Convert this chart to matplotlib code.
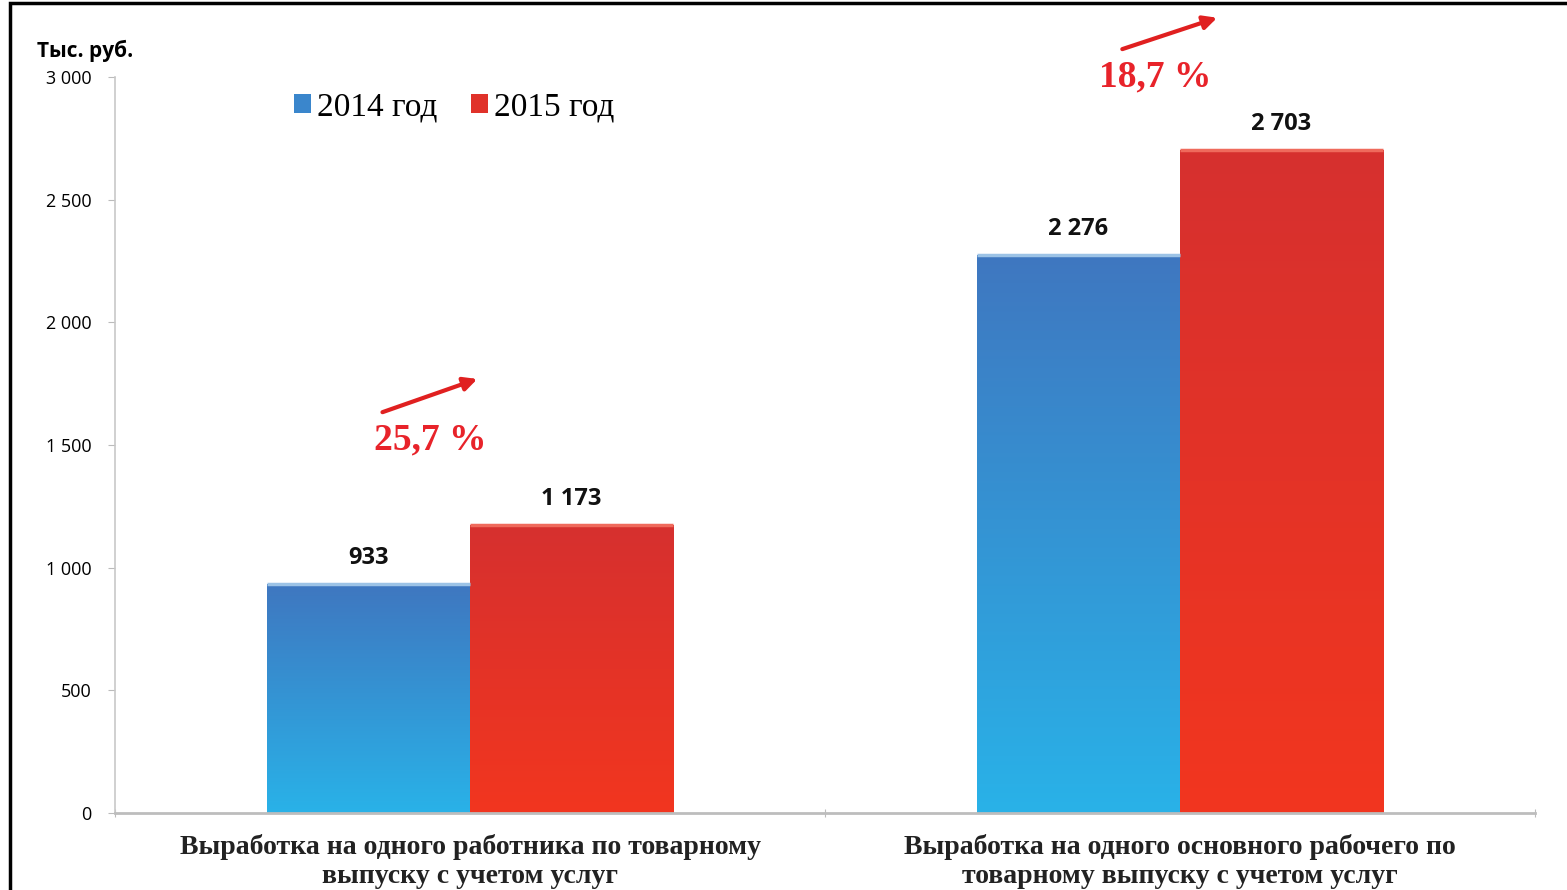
import numpy as np
import matplotlib.pyplot as plt
from matplotlib.patches import Rectangle
from matplotlib.colors import LinearSegmentedColormap

# data
categories = ["Выработка на одного работника по товарному\nвыпуску с учетом услуг",
              "Выработка на одного основного рабочего по\nтоварному выпуску с учетом услуг"]
years = ["2014 год", "2015 год"]
values_2014 = [933, 2276]
values_2015 = [1173, 2703]
labels_2014 = ["933", "2 276"]
labels_2015 = ["1 173", "2 703"]
growth = ["25,7 %", "18,7 %"]
yticks = [0, 500, 1000, 1500, 2000, 2500, 3000]
ytick_labels = ["0", "500", "1 000", "1 500", "2 000", "2 500", "3 000"]

blue_cmap = LinearSegmentedColormap.from_list("b", ["#29b2e8", "#3f77c0"])
red_cmap = LinearSegmentedColormap.from_list("r", ["#f2361f", "#d6302f"])

fig = plt.figure(figsize=(15.67, 8.9), dpi=100)
ax = fig.add_axes([0.0734, 0.0865, 0.9062, 0.827])

x = np.arange(len(categories))
w = 0.286
bars1 = ax.bar(x - w / 2, values_2014, w, color="#3a86cc", label=years[0])
bars2 = ax.bar(x + w / 2, values_2015, w, color="#e0322a", label=years[1])

grad = np.linspace(0, 1, 256).reshape(-1, 1)
for bars, cmap in [(bars1, blue_cmap), (bars2, red_cmap)]:
    for b in bars:
        x0, y0 = b.get_x(), b.get_y()
        im = ax.imshow(grad, cmap=cmap, origin="lower", aspect="auto",
                       extent=[x0, x0 + b.get_width(), y0, y0 + b.get_height()],
                       zorder=b.get_zorder() + 0.1)
        im.set_clip_path(b)
        # light top edge
        ax.plot([x0, x0 + b.get_width()], [b.get_height(), b.get_height()],
                color="#9cc3e6" if cmap is blue_cmap else "#ef6a5c", lw=2.5,
                zorder=3, solid_capstyle="butt")

for bars, labs in [(bars1, labels_2014), (bars2, labels_2015)]:
    for b, t in zip(bars, labs):
        ax.annotate(t, (b.get_x() + b.get_width() / 2, b.get_height()),
                    xytext=(0, 10), textcoords="offset points", ha="center",
                    va="bottom", fontsize=17, fontweight="bold",
                    family="Open Sans", color="#111111")

ax.set_xlim(-0.5, 1.5)
ax.set_ylim(0, 3000)
ax.set_yticks(yticks)
ax.set_yticklabels(ytick_labels, family="Open Sans", fontsize=13)
ax.set_xticks([-0.5, 0.5, 1.5])
ax.set_xticklabels([])
ax.tick_params(axis="y", length=5, color="#bbbbbb", pad=12)
ax.tick_params(axis="x", length=6, color="#bbbbbb", direction="inout")
for s in ["top", "right"]:
    ax.spines[s].set_visible(False)
ax.spines["left"].set_color("#c8c8c8")
ax.spines["bottom"].set_color("#bdbdbd")
ax.spines["left"].set_linewidth(1.2)
ax.spines["bottom"].set_linewidth(2)

for i, c in enumerate(categories):
    ax.text(x[i], -85, c, ha="center", va="top", fontsize=20,
            fontweight="bold", family="Liberation Serif", color="#222222",
            linespacing=1.2, transform=ax.transData)

# growth arrows
arrow_pos = [((-0.127, 1630), (0.014, 1773), (-0.056, 1520)),
             ((0.915, 3110), (1.056, 3245), (0.965, 3000))]
for (s, e, tp), g in zip(arrow_pos, growth):
    ax.annotate("", xy=e, xytext=s, annotation_clip=False,
                arrowprops=dict(arrowstyle="-|>", color="#e02020", lw=3,
                                mutation_scale=20))
    ax.text(tp[0], tp[1], g, ha="center", va="center", fontsize=27,
            fontweight="bold", family="Liberation Serif", color="#e8232a",
            clip_on=False)

leg = ax.legend(loc="upper left", bbox_to_anchor=(0.105, 1.021), ncol=2,
                frameon=False, prop={"family": "Liberation Serif", "size": 24},
                handlelength=0.5, handleheight=0.5, handletextpad=0.2,
                columnspacing=1.0)

fig.text(85 / 1567, 1 - 51 / 890, "Тыс. руб.", ha="center", va="center",
         fontsize=15, fontweight="bold", family="Open Sans")

fig.patches.append(Rectangle((10 / 1567, -0.1), 1.2, 1.1 - 3 / 890,
                             transform=fig.transFigure, fill=False,
                             edgecolor="black", lw=2.5))

fig.savefig("out.png", dpi=100)
